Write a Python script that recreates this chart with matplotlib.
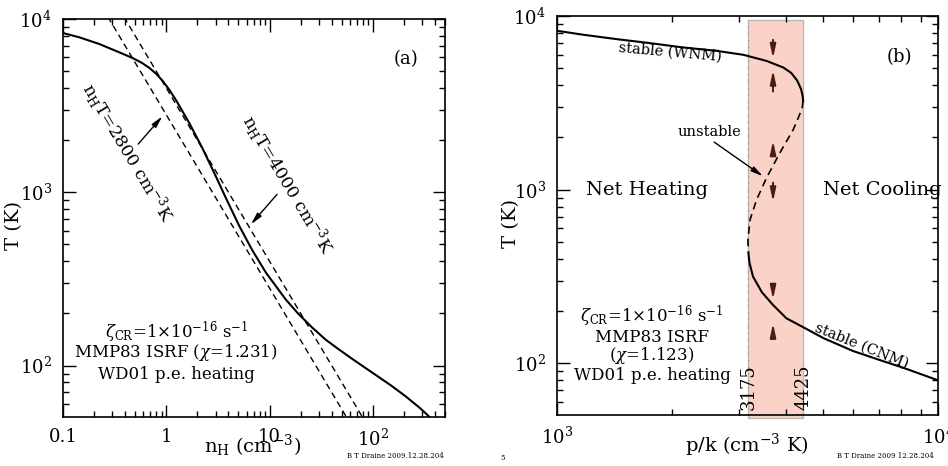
import matplotlib
matplotlib.use("Agg")
import matplotlib.pyplot as plt

plt.rcParams['font.family'] = ['DejaVu Serif']
plt.rcParams['mathtext.fontset'] = 'dejavuserif'

# ---------------- data: panel (a) ----------------
n_H = [0.1, 0.144, 0.225, 0.351, 0.473, 0.58, 0.685, 0.80, 0.921, 1.07, 1.24,
       1.67, 2.24, 3.02, 3.80, 5.08, 6.78, 9.25, 14.4, 19, 25.8, 35, 46.9,
       65, 98.5, 150, 207, 280, 330, 360]
T_a = [8300, 7840, 7170, 6420, 5950, 5585, 5225, 4820, 4400, 3905, 3410,
       2510, 1795, 1236, 920, 641, 465, 343, 240, 199, 166, 141, 124,
       108, 91.2, 76.8, 66.6, 57.5, 52.6, 49.9]
isobar_values = [2800, 4000]          # n_H T = const (cm^-3 K)
n_range = [0.1, 500]

# ---------------- data: panel (b) ----------------
p_wnm = [1000, 1172, 1434, 1754, 2142, 2625, 3085, 3548, 3928, 4120, 4270,
         4370, 4415, 4425]
T_wnm = [8220, 7800, 7360, 6980, 6590, 6300, 5977, 5514, 5050, 4700, 4250,
         3800, 3450, 3250]
p_unst = [4425, 4400, 4300, 4170, 3845, 3548, 3340, 3210, 3170, 3180]
T_unst = [3250, 2950, 2600, 2220, 1630, 1170, 875, 670, 515, 433]
p_cnm = [3180, 3200, 3270, 3450, 3690, 4000, 4420, 5000, 5980, 7000, 8100,
         10000]
T_cnm = [433, 380, 316, 257, 217, 182, 162, 140, 118, 105, 94.5, 80]
p_band = [3175, 4425]

xticks_a = [0.1, 1, 10, 100]
xticklabels_a = ['0.1', '1', '10', r'10$^2$']
yticks = [100, 1000, 10000]
yticklabels = [r'10$^2$', r'10$^3$', r'10$^4$']
xticks_b = [1000, 10000]
xticklabels_b = [r'10$^3$', r'10$^4$']

W, H = 948, 466
fig = plt.figure(figsize=(W / 100, H / 100), dpi=100)
axa = fig.add_axes([63 / W, 1 - 417 / H, (445 - 63) / W, (417 - 19) / H])
axb = fig.add_axes([557 / W, 1 - 415 / H, (938 - 557) / W, (415 - 16) / H])

for ax in (axa, axb):
    ax.set_xscale('log')
    ax.set_yscale('log')
    ax.set_ylim(50.5, 10000)
    ax.tick_params(which='both', direction='in', top=True, right=True,
                   labelsize=13, width=1, pad=8)
    ax.tick_params(which='major', length=9)
    ax.tick_params(which='minor', length=4.5)
    for s in ax.spines.values():
        s.set_linewidth(1.2)
    ax.set_yticks(yticks)
    ax.set_yticklabels(yticklabels)
    ax.yaxis.set_minor_formatter(matplotlib.ticker.NullFormatter())
    ax.xaxis.set_minor_formatter(matplotlib.ticker.NullFormatter())

head = '-|>,head_length=0.7,head_width=0.16'

# ---------- panel (a) ----------
axa.set_xlim(0.1, 500)
axa.set_xticks(xticks_a)
axa.set_xticklabels(xticklabels_a)
axa.plot(n_H, T_a, color='black', lw=1.5)
for P in isobar_values:
    axa.plot(n_range, [P / n for n in n_range], color='black', lw=1,
             dashes=(4.5, 3))
axa.set_xlabel(r'n$_{\rm H}$ (cm$^{-3}$)', fontsize=14)
axa.xaxis.set_label_coords(0.497, -0.04)
axa.set_ylabel('T (K)', fontsize=14)
axa.yaxis.set_label_coords(-0.105, 0.48)

axa.text(0.42, 1700, r'n$_{\rm H}$T=2800 cm$^{-3}$K', rotation=-59,
         ha='center', va='center', fontsize=12.5, rotation_mode='anchor')
axa.text(14.8, 1110, r'n$_{\rm H}$T=4000 cm$^{-3}$K', rotation=-59,
         ha='center', va='center', fontsize=12.5, rotation_mode='anchor')
axa.annotate('', xy=(0.956, 2825), xytext=(0.513, 1845),
             arrowprops=dict(arrowstyle=head, color='black', lw=1))
axa.annotate('', xy=(6.34, 635), xytext=(12.3, 1000),
             arrowprops=dict(arrowstyle=head, color='black', lw=1))
axa.text(208, 5870, '(a)', ha='center', va='center', fontsize=13)
axa.text(1.25, 155, r'$\zeta_{\rm CR}$=1$\times$10$^{-16}$ s$^{-1}$',
         ha='center', va='center', fontsize=12)
axa.text(1.25, 119, r'MMP83 ISRF ($\chi$=1.231)', ha='center', va='center',
         fontsize=12)
axa.text(1.25, 88.8, 'WD01 p.e. heating', ha='center', va='center',
         fontsize=12)

# ---------- panel (b) ----------
axb.set_xlim(1000, 10000)
axb.set_xticks(xticks_b)
axb.set_xticklabels(xticklabels_b)
axb.fill_between(p_band, [-0.008, -0.008], [0.99, 0.99],
                 transform=axb.get_xaxis_transform(), facecolor='#fbd2c7',
                 edgecolor='#b8b8b8', lw=1, clip_on=False, zorder=0)
axb.plot([p_band[0], p_band[0]], [0.0, 0.99], color='#9a6a60', lw=0.7,
         ls=(0, (1, 6)), transform=axb.get_xaxis_transform(), zorder=0.5)
axb.plot(p_wnm, T_wnm, color='black', lw=1.5)
axb.plot(p_unst, T_unst, color='black', lw=1.2, dashes=(4.5, 3))
axb.plot(p_cnm, T_cnm, color='black', lw=1.5)
axb.set_xlabel(r'p/k (cm$^{-3}$ K)', fontsize=14)
axb.xaxis.set_label_coords(0.499, -0.043)
axb.set_ylabel('T (K)', fontsize=14)
axb.yaxis.set_label_coords(-0.097, 0.48)

arrow_p = 3690
arrow_pairs = [(7560, 5490), (3540, 5070), (1560, 1990), (1140, 820),
               (283, 225), (141, 177)]
for t0, t1 in arrow_pairs:
    axb.annotate('', xy=(arrow_p, t1), xytext=(arrow_p, t0),
                 arrowprops=dict(arrowstyle='-|>,head_length=0.8,head_width=0.17',
                                 color='#4a1c14', lw=1.4))

axb.text(1982, 6180, 'stable (WNM)', rotation=-5, ha='center', va='center',
         fontsize=10.5)
axb.text(2520, 2160, 'unstable', ha='center', va='center', fontsize=10.5)
axb.annotate('', xy=(3520, 1170), xytext=(2550, 1920),
             arrowprops=dict(arrowstyle=head, color='black', lw=1))
axb.text(6310, 127, 'stable (CNM)', rotation=-22, ha='center', va='center',
         fontsize=10.5)
axb.text(1723, 1000, 'Net Heating', ha='center', va='center', fontsize=14)
axb.text(4990, 1000, 'Net Cooling', ha='left', va='center', fontsize=14,
         clip_on=False)
axb.text(7940, 5800, '(b)', ha='center', va='center', fontsize=13)
for pv in p_band:
    axb.text(pv, 0.07, str(pv), rotation=90, ha='center', va='center',
             fontsize=13, transform=axb.get_xaxis_transform())
axb.text(1775, 186, r'$\zeta_{\rm CR}$=1$\times$10$^{-16}$ s$^{-1}$',
         ha='center', va='center', fontsize=12)
axb.text(1775, 141, 'MMP83 ISRF', ha='center', va='center', fontsize=12)
axb.text(1775, 111, r'($\chi$=1.123)', ha='center', va='center', fontsize=12)
axb.text(1775, 85, 'WD01 p.e. heating', ha='center', va='center', fontsize=12)

fig.text(395 / W, 1 - 456 / H, 'B T Draine 2009.12.28.204', fontsize=5,
         ha='center', va='center')
fig.text(885 / W, 1 - 456 / H, 'B T Draine 2009 12.28.204', fontsize=5,
         ha='center', va='center')
fig.text(503 / W, 1 - 458 / H, '5', fontsize=5, ha='center', va='center')

fig.savefig('out.png', dpi=100)
